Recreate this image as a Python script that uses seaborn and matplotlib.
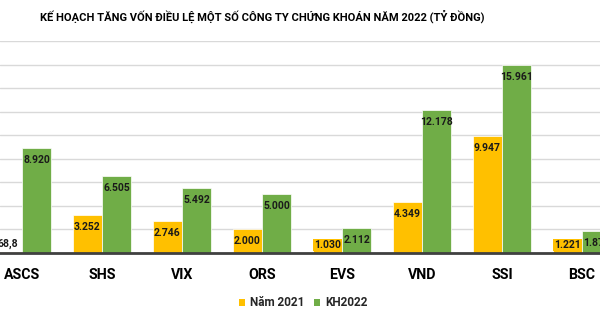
import matplotlib
matplotlib.use("Agg")
import matplotlib.pyplot as plt
import seaborn as sns
import pandas as pd
from matplotlib.patches import Patch

companies = ["ASCS", "SHS", "VIX", "ORS", "EVS", "VND", "SSI", "BSC"]
nam_2021 = [68.8, 3252, 2746, 2000, 1030, 4349, 9947, 1221]
kh_2022 = [8920, 6505, 5492, 5000, 2112, 12178, 15961, 1875]
series_names = ["Năm 2021", "KH2022"]
title = "KẾ HOẠCH TĂNG VỐN ĐIỀU LỆ MỘT SỐ CÔNG TY CHỨNG KHOÁN NĂM 2022 (TỶ ĐỒNG)"

YELLOW = "#FFC000"
GREEN = "#70AD47"

sns.set_theme(style="white")
plt.rcParams["font.family"] = ["Roboto", "Open Sans", "DejaVu Sans"]

df = pd.DataFrame({
    "company": companies * 2,
    "value": nam_2021 + kh_2022,
    "series": [series_names[0]] * len(companies) + [series_names[1]] * len(companies),
})

fig = plt.figure(figsize=(6, 3.15), dpi=100)
ax = fig.add_axes([0, 62 / 315, 1, (253 - 41) / 315])

sns.barplot(data=df, x="company", y="value", hue="series", hue_order=series_names,
            palette=[YELLOW, GREEN], width=0.73, saturation=1, ax=ax, legend=False,
            edgecolor="white", linewidth=0.5)

ax.set_xlim(-0.275, 7.225)
ax.set_ylim(0, 18000)
ax.set_yticks(range(0, 18001, 2000))
ax.yaxis.grid(True, color="#d9d9d9", linewidth=1)
ax.set_axisbelow(True)
ax.tick_params(axis="y", left=False, labelleft=False)
ax.tick_params(axis="x", bottom=False, pad=5)
ax.set_xlabel("")
ax.set_ylabel("")
for s in ["left", "right", "top"]:
    ax.spines[s].set_visible(False)
ax.spines["bottom"].set_color("#404040")
ax.spines["bottom"].set_linewidth(2)
for lbl in ax.get_xticklabels():
    lbl.set_fontweight("bold")
    lbl.set_fontsize(10.2)
    lbl.set_color("#000000")


def fmt(v):
    if float(v).is_integer():
        return f"{int(v):,}".replace(",", ".")
    return f"{v:.1f}".replace(".", ",")


px_per_unit = (253 - 41) / 18000
for container, color in zip(ax.containers, [YELLOW, GREEN]):
    for bar in container:
        h = bar.get_height()
        xc = bar.get_x() + bar.get_width() / 2
        hp = h * px_per_unit
        txt = fmt(h)
        kw = dict(ha="center", fontsize=7.5, fontweight="bold", color="#1a1a1a",
                  textcoords="offset points")
        if hp < 4:
            ax.annotate(txt, (xc, h), xytext=(0, 2), va="bottom", **kw)
        elif hp < 18:
            ax.annotate(txt, (xc, 0), xytext=(0, 2), va="bottom",
                        bbox=dict(boxstyle="square,pad=0.1", fc=color, ec="none"), **kw)
        else:
            ax.annotate(txt, (xc, h), xytext=(0, -5), va="top", **kw)

fig.text(262 / 600, 1 - 16 / 315, title, ha="center", va="center",
         fontsize=8.0, fontweight="bold", color="#000000")

handles = [Patch(facecolor=YELLOW, edgecolor="none"), Patch(facecolor=GREEN, edgecolor="none")]
fig.legend(handles, series_names, loc="center", bbox_to_anchor=(303 / 600, 1 - 303 / 315),
           ncol=2, frameon=False, handlelength=0.55, handleheight=0.55, handletextpad=0.4,
           columnspacing=0.8, prop=dict(weight="bold", size=8.5))

fig.savefig("out.png", dpi=100)
